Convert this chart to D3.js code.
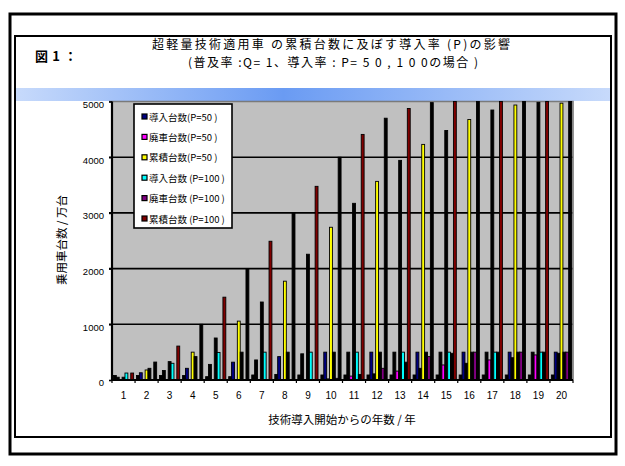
<!DOCTYPE html>
<html>
<head>
<meta charset="utf-8">
<script src="https://cdn.jsdelivr.net/npm/d3@7"></script>
<style>
  body { margin: 0; background: #fff; }
  svg { display: block; }
  .jp { font-family: "Noto Sans CJK JP", "Liberation Sans", sans-serif; }
  .num { font-family: "Liberation Sans", Arial, sans-serif; }
</style>
</head>
<body>
<svg id="chart" width="625" height="466"></svg>
<script>
// Years since introduction (category axis)
const years = ["1","2","3","4","5","6","7","8","9","10","11","12","13","14","15","16","17","18","19","20"];
const yTicks = [0, 1000, 2000, 3000, 4000, 5000];

const seriesNames = [
  "導入台数(P=50 )", "廃車台数(P=50 )", "累積台数(P=50 )",
  "導入台数 (P=100 )", "廃車台数 (P=100 )", "累積台数 (P=100 )"
];

// 万台
const introP50  = [50, 130, 170, 210, 280, 320, 360, 420, 470, 500, 500, 500, 500, 500, 500, 500, 500, 500, 500, 500];
const scrapP50  = [0, 0, 0, 0, 0, 0, 0, 0, 10, 20, 70, 110, 160, 210, 270, 300, 360, 400, 450, 480];
const cumP50    = [50, 180, 330, 500, 754, 1057, 1400, 1774, 2258, 2742, 3172, 3566, 3943, 4230, 4480, 4677, 4847, 4937, 4985, 4970];
const introP100 = [125, 210, 300, 420, 495, 500, 500, 500, 500, 500, 500, 500, 500, 500, 500, 500, 500, 500, 500, 500];
const scrapP100 = [0, 0, 0, 0, 0, 0, 0, 0, 10, 30, 100, 210, 320, 420, 480, 500, 500, 500, 500, 500];
const cumP100   = [125, 322, 609, 1000, 1487, 2000, 2491, 3000, 3477, 4000, 4409, 4700, 4875, 4980, 5000, 5000, 5000, 5000, 5000, 5000];
// unlabelled leading series in each cluster
const otherCounts = [80, 80, 80, 80, 60, 60, 90, 100, 90, 90, 90, 90, 90, 90, 90, 90, 90, 90, 90, 90];

const seriesColors = ["#000080", "#ff00ff", "#ffff00", "#00ffff", "#800080", "#800000"];
const seriesValues = [introP50, scrapP50, cumP50, introP100, scrapP100, cumP100];

const svg = d3.select("#chart");

// ---- frames ----
svg.append("rect").attr("x", 10).attr("y", 14).attr("width", 606).attr("height", 440)
  .attr("fill", "#fff").attr("stroke", "#000").attr("stroke-width", 3);
svg.append("rect").attr("x", 15).attr("y", 36).attr("width", 596).attr("height", 401)
  .attr("fill", "#fff").attr("stroke", "#000").attr("stroke-width", 2);

// gradient band under the title
const defs = svg.append("defs");
const grad = defs.append("linearGradient").attr("id", "band");
grad.append("stop").attr("offset", "0%").attr("stop-color", "#c7dafb");
grad.append("stop").attr("offset", "45%").attr("stop-color", "#6a9bf3");
grad.append("stop").attr("offset", "100%").attr("stop-color", "#c7dafb");
svg.append("rect").attr("x", 16).attr("y", 88).attr("width", 594).attr("height", 13)
  .attr("fill", "url(#band)");

// ---- titles ----
svg.append("text").attr("class", "jp").attr("x", 35).attr("y", 61)
  .attr("font-size", 13).attr("font-weight", "bold")
  .attr("textLength", 42).attr("lengthAdjust", "spacing").text("図1：");
svg.append("text").attr("class", "jp").attr("x", 152).attr("y", 49)
  .attr("font-size", 12).attr("textLength", 358).attr("lengthAdjust", "spacing")
  .text("超軽量技術適用車 の累積台数に及ぼす導入率 (P)の影響");
svg.append("text").attr("class", "jp").attr("x", 188).attr("y", 67)
  .attr("font-size", 12).attr("textLength", 290).attr("lengthAdjust", "spacing")
  .text("(普及率 :Q= 1、導入率 : P= 5 0 , 1 0 0の場合 )");

// ---- plot area ----
const plot = { left: 112, right: 573, top: 101.5, bottom: 380 };
const x = d3.scaleBand(years, [plot.left, plot.right]).paddingInner(0.125).paddingOuter(0.0625);
const slotKeys = ["other", 0, 1, 2, 3, 4, 5];
const xs = d3.scaleBand(slotKeys, [0, x.bandwidth()]);
const y = d3.scaleLinear([0, 5000], [plot.bottom, plot.top]);

svg.append("rect").attr("x", plot.left).attr("y", plot.top)
  .attr("width", plot.right - plot.left).attr("height", plot.bottom - plot.top)
  .attr("fill", "#c0c0c0");

// gridlines
svg.append("g").selectAll("line").data(yTicks.filter(v => v > 0 && v < 5000)).join("line")
  .attr("x1", plot.left - 3).attr("x2", plot.right)
  .attr("y1", d => y(d)).attr("y2", d => y(d))
  .attr("stroke", "#000").attr("stroke-width", 1.6);
// top / right border of the plot
svg.append("path")
  .attr("d", `M${plot.left - 3},${plot.top}H${plot.right}V${plot.bottom}`)
  .attr("fill", "none").attr("stroke", "#7a7a7a").attr("stroke-width", 1.6);

svg.append("clipPath").attr("id", "plotClip").append("rect")
  .attr("x", plot.left).attr("y", plot.top - 1)
  .attr("width", plot.right - plot.left).attr("height", plot.bottom - plot.top + 1);

// bar records
const bars = [];
years.forEach((yr, i) => {
  if (otherCounts[i] > 0) bars.push({ year: yr, slot: "other", v: otherCounts[i], fill: "#000" });
  seriesValues.forEach((vals, s) => {
    if (vals[i] > 0) {
      // alternate years are drawn in solid black
      const solid = (i + 1 + s) % 2 !== 0;
      bars.push({ year: yr, slot: s, v: vals[i], fill: solid ? "#000" : seriesColors[s] });
    }
  });
});

svg.append("g").attr("clip-path", "url(#plotClip)")
  .selectAll("rect").data(bars).join("rect")
  .attr("x", d => x(d.year) + xs(d.slot))
  .attr("y", d => y(d.v))
  .attr("width", xs.bandwidth())
  .attr("height", d => y(0) - y(d.v))
  .attr("fill", d => d.fill)
  .attr("stroke", "#000").attr("stroke-width", 0.9);

// axes
const yAxis = svg.append("g").attr("transform", `translate(${plot.left},0)`)
  .call(d3.axisLeft(y).tickValues(yTicks).tickSize(3).tickPadding(5).tickFormat(d3.format("d")));
yAxis.select(".domain").attr("stroke-width", 2.2).attr("d", `M0,${plot.top}V${plot.bottom + 1}`);
yAxis.selectAll(".tick line").attr("stroke-width", 1.6);
yAxis.selectAll("text").attr("class", "num").attr("font-size", 9.5).attr("fill", "#000").attr("dy", "0.62em");

const xAxis = svg.append("g").attr("transform", `translate(0,${plot.bottom})`)
  .call(d3.axisBottom(x).tickSize(0).tickPadding(12));
xAxis.select(".domain").attr("stroke-width", 2.2).attr("d", `M${plot.left},0H${plot.right}`);
xAxis.selectAll("text").attr("class", "num").attr("font-size", 10).attr("fill", "#000");
// category boundary ticks
svg.append("g").selectAll("line").data(d3.range(years.length + 1)).join("line")
  .attr("x1", i => plot.left + i * x.step()).attr("x2", i => plot.left + i * x.step())
  .attr("y1", plot.bottom).attr("y2", plot.bottom + 3)
  .attr("stroke", "#000").attr("stroke-width", 1.2);

// axis titles
svg.append("text").attr("class", "jp").attr("x", 342).attr("y", 424)
  .attr("text-anchor", "middle").attr("font-size", 11.5).text("技術導入開始からの年数 / 年");
svg.append("text").attr("class", "jp")
  .attr("transform", "translate(66,240) rotate(-90)")
  .attr("text-anchor", "middle").attr("font-size", 11.5).text("乗用車台数 / 万台");

// legend
const legend = svg.append("g");
legend.append("rect").attr("x", 134).attr("y", 104).attr("width", 98).attr("height", 124)
  .attr("fill", "#fff").attr("stroke", "#000").attr("stroke-width", 1.6);
const rows = legend.selectAll("g.row").data(seriesNames).join("g")
  .attr("transform", (d, i) => `translate(0,${117 + i * 20.4})`);
rows.append("rect").attr("x", 142).attr("y", -3).attr("width", 5).attr("height", 5)
  .attr("fill", (d, i) => seriesColors[i]).attr("stroke", "#000").attr("stroke-width", 1.2);
rows.append("text").attr("class", "jp").attr("x", 149).attr("y", 3.5)
  .attr("font-size", 9.5).text(d => d);
</script>
</body>
</html>
